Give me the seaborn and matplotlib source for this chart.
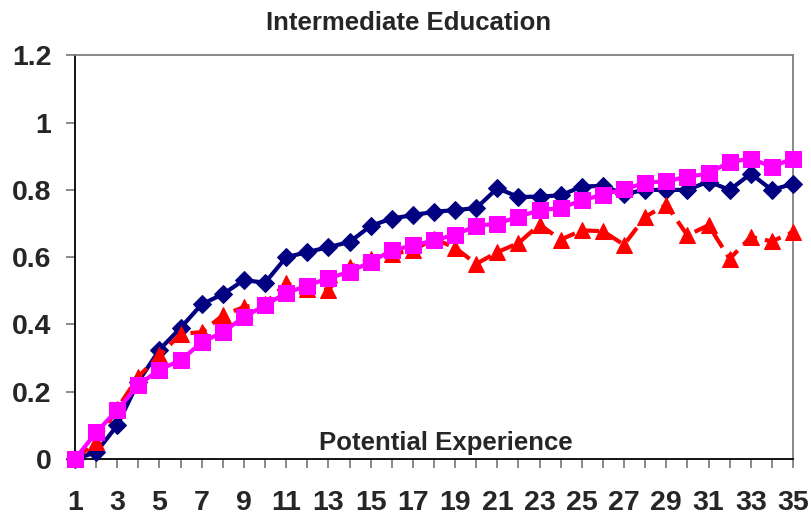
import matplotlib
matplotlib.use("Agg")
import matplotlib.pyplot as plt
import pandas as pd
import seaborn as sns

# Data
experience = list(range(1, 36))

series_navy = [0.0, 0.02, 0.10, 0.23, 0.325, 0.39, 0.46, 0.49, 0.532, 0.524,
               0.60, 0.615, 0.63, 0.645, 0.693, 0.715, 0.725, 0.735, 0.74, 0.746,
               0.805, 0.779, 0.78, 0.784, 0.81, 0.812, 0.788, 0.80, 0.80, 0.80,
               0.825, 0.80, 0.848, 0.80, 0.818]

series_red = [0.0, 0.05, 0.15, 0.245, 0.308, 0.372, 0.377, 0.427, 0.452, 0.462,
              0.522, 0.506, 0.503, 0.57, 0.595, 0.61, 0.62, 0.655, 0.628, 0.58,
              0.615, 0.642, 0.697, 0.652, 0.68, 0.677, 0.637, 0.72, 0.756, 0.665,
              0.695, 0.595, 0.66, 0.647, 0.675]

series_magenta = [0.0, 0.079, 0.146, 0.22, 0.266, 0.293, 0.347, 0.377, 0.422, 0.457,
                  0.494, 0.515, 0.538, 0.556, 0.586, 0.62, 0.635, 0.65, 0.667, 0.693,
                  0.70, 0.72, 0.74, 0.746, 0.769, 0.786, 0.802, 0.821, 0.826, 0.839,
                  0.849, 0.883, 0.893, 0.869, 0.893]

y_ticks = [0, 0.2, 0.4, 0.6, 0.8, 1.0, 1.2]
y_tick_labels = ["0", "0.2", "0.4", "0.6", "0.8", "1", "1.2"]

df = pd.DataFrame({
    "Experience": experience,
    "navy": series_navy,
    "red": series_red,
    "magenta": series_magenta,
})

sns.set_style("white")
plt.rcParams["font.family"] = ["Liberation Sans", "DejaVu Sans"]
plt.rcParams["font.weight"] = "bold"

fig = plt.figure(figsize=(8.11, 5.18), dpi=100)
ax = fig.add_axes([0.0925, 0.1139, 0.8853, 0.7792])

sns.lineplot(data=df, x="Experience", y="navy", ax=ax, color="#000080",
             marker="D", markersize=9, markeredgecolor="#000080",
             linewidth=3, clip_on=False, zorder=3)
sns.lineplot(data=df, x="Experience", y="red", ax=ax, color="#FF0000",
             marker="^", markersize=11.5, markeredgecolor="#FF0000",
             linewidth=3, linestyle=(0, (4, 2)), clip_on=False, zorder=4)
sns.lineplot(data=df, x="Experience", y="magenta", ax=ax, color="#FF00FF",
             marker="s", markersize=11.5, markeredgecolor="#FF00FF",
             linewidth=3, clip_on=False, zorder=5)

ax.set_xlim(1, 35)
ax.set_ylim(0, 1.2)
ax.set_xticks(experience)
ax.set_xticklabels([str(v) if v % 2 == 1 else "" for v in experience])
ax.set_yticks(y_ticks)
ax.set_yticklabels(y_tick_labels)
ax.set_xlabel("")
ax.set_ylabel("")

ax.tick_params(axis="both", direction="out", length=6.5, width=1.3,
               color="#808080", labelsize=20.5, bottom=True, left=True)
ax.tick_params(axis="x", pad=16)
ax.tick_params(axis="y", pad=10.5)

for side in ["top", "right"]:
    ax.spines[side].set_color("#808080")
    ax.spines[side].set_linewidth(1.3)
for side in ["left", "bottom"]:
    ax.spines[side].set_color("black")
    ax.spines[side].set_linewidth(1.3)

ax.text(0.517, 0.0223, "Potential Experience", transform=ax.transAxes,
        ha="center", va="baseline", fontsize=18.5, fontweight="bold")
fig.text(0.504, 0.943, "Intermediate Education", ha="center", va="baseline",
         fontsize=18.5, fontweight="bold")

fig.savefig("out.png", dpi=100)
